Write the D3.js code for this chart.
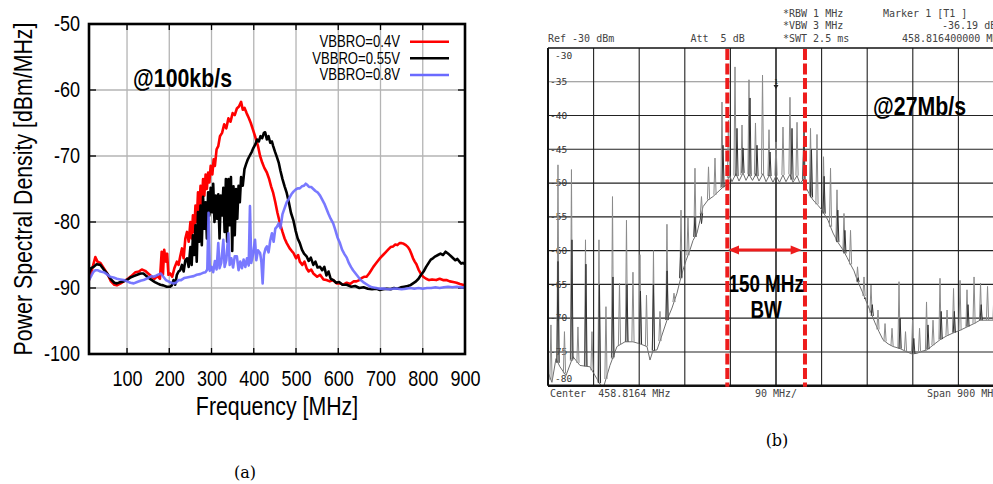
<!DOCTYPE html>
<html><head><meta charset="utf-8">
<script src="https://cdn.jsdelivr.net/npm/d3@7/dist/d3.min.js"></script>
<style>body{margin:0;background:#fff}svg{display:block}</style>
</head><body>
<svg id="c" width="993" height="484"></svg>
<script>
// ---------------- Panel (a) data ----------------
const freqTicks = [100,200,300,400,500,600,700,800,900];
const psdTicks = [-50,-60,-70,-80,-90,-100];
const seriesNames = ["VBBRO=0.4V","VBBRO=0.55V","VBBRO=0.8V"];
const seriesColors = ["#ff0000","#000000","#6a6aff"];
const red04 = [[10,-88.8],[18,-87],[25,-85.3],[30,-86],[37,-86.2],[45,-87],[53,-87.8],[62,-89],[70,-89.5],[76,-89.6],[85,-89.3],[92,-89],[100,-88.7],[110,-88.2],[120,-87.6],[128,-87.5],[135,-87.2],[143,-87.4],[150,-87.8],[159,-88.3],[165,-88.6],[172,-88.2],[178,-88.6],[182,-84.5],[185,-88],[188,-84.2],[192,-86],[195,-84.8],[198,-88],[202,-87.8],[207,-88.3],[212,-87],[218,-86],[222,-86.5],[226,-85.2],[230,-84],[234,-85.5],[238,-82.5],[242,-81.5],[246,-83],[250,-80],[253,-82.5],[256,-79],[259,-81.5],[262,-77.5],[265,-80],[268,-75.5],[271,-78.5],[274,-74.5],[277,-77.5],[280,-73.5],[283,-76],[286,-72.8],[289,-75],[292,-72.5],[295,-74],[298,-71.5],[302,-72.8],[305,-70.5],[308,-71.5],[312,-69],[316,-68.5],[320,-67],[325,-66.5],[330,-65.2],[335,-65.8],[340,-64.3],[345,-64.8],[350,-63.5],[355,-63.8],[360,-62.8],[365,-62.5],[370,-61.8],[374,-63],[378,-62.7],[383,-63.5],[388,-64.2],[393,-65],[399,-66.2],[404,-67.2],[410,-68.5],[415,-70],[420,-71],[425,-71.8],[431,-72.5],[436,-73.4],[441,-74.6],[446,-75.6],[451,-77],[456,-78.6],[462,-80.2],[468,-81.5],[473,-82.5],[478,-83.2],[485,-84],[490,-84.4],[494,-84.7],[500,-85.5],[505,-85],[509,-86],[515,-86.5],[520,-86],[525,-87],[530,-87.5],[536,-87.2],[541,-87.8],[550,-88.3],[557,-88],[565,-88.7],[572,-88.8],[580,-89],[588,-88.8],[596,-89.3],[604,-89.3],[612,-89.5],[620,-89.2],[628,-89.4],[636,-89],[643,-89],[650,-88.8],[655,-88.5],[661,-88.3],[667,-88.3],[673,-87.8],[678,-87.3],[683,-86.8],[689,-86.3],[695,-85.8],[700,-85.4],[706,-85],[712,-84.6],[718,-84.2],[724,-83.8],[730,-83.7],[735,-83.4],[740,-83.5],[745,-83.2],[750,-83.2],[755,-83.3],[760,-83.5],[765,-83.8],[769,-84.2],[773,-84.8],[777,-85.5],[781,-86],[785,-86.4],[790,-87.2],[795,-87.8],[801,-88.3],[808,-88.6],[815,-88.8],[822,-88.7],[832,-88.8],[840,-88.6],[848,-88.8],[856,-88.8],[864,-89],[872,-89.1],[880,-89.2],[888,-89.4],[895,-89.5],[900,-89.6]];
const black055 = [[10,-87.8],[15,-87],[21,-86.8],[28,-86.4],[37,-86.5],[45,-87.2],[53,-87.8],[62,-88.7],[70,-89.2],[76,-89.3],[85,-89.1],[92,-89],[100,-88.8],[108,-88.4],[116,-88.2],[124,-88],[132,-87.8],[139,-87.8],[146,-88.2],[152,-88.5],[159,-88.8],[166,-89.1],[172,-89.3],[179,-89.5],[186,-89.6],[194,-89.8],[202,-89.8],[206,-89.6],[210,-88.8],[214,-89.5],[218,-88],[222,-87.5],[226,-87.3],[230,-86.5],[234,-87.5],[238,-85.8],[242,-85.5],[246,-86.8],[250,-83.8],[253,-86.5],[256,-82],[259,-85],[262,-80.5],[265,-86],[268,-78.5],[271,-83],[274,-77.5],[277,-83.5],[280,-76.2],[283,-81],[286,-77],[289,-82.5],[292,-75.5],[295,-79],[298,-74.8],[301,-78.5],[304,-74.2],[307,-80],[310,-76],[313,-79.5],[316,-75.8],[319,-82.5],[322,-76],[325,-79],[328,-74.8],[331,-81.5],[334,-73.5],[337,-83],[340,-73.5],[343,-80.5],[346,-73.2],[349,-84.4],[352,-74.6],[355,-82],[358,-75],[361,-79.5],[364,-74.5],[367,-77],[370,-73.2],[374,-74.5],[378,-72],[382,-71.2],[386,-70.5],[390,-70],[395,-69.4],[399,-68.8],[404,-68.2],[408,-67.5],[412,-67.8],[416,-67],[420,-67.3],[424,-66.5],[427,-66.4],[431,-67.5],[435,-67],[439,-68],[443,-67.8],[446,-68.5],[450,-69.3],[455,-70.2],[459,-71],[463,-72.2],[468,-73.5],[473,-74.6],[478,-75.6],[483,-77],[488,-78.6],[494,-79.8],[499,-81.3],[504,-82.5],[509,-83.2],[514,-84.2],[519,-84.8],[525,-85.2],[530,-85.9],[535,-85.4],[541,-86.5],[546,-86],[551,-86.9],[557,-86.8],[562,-87.3],[567,-86.8],[572,-88.1],[577,-87.5],[582,-88.6],[588,-88.8],[595,-89.2],[602,-89.1],[610,-89.5],[620,-89.5],[630,-89.8],[640,-89.7],[650,-90],[660,-89.9],[670,-90.1],[680,-90.2],[690,-90.1],[698,-90.3],[706,-90.2],[715,-90.1],[724,-90.2],[732,-90],[740,-90.1],[748,-89.9],[756,-89.8],[764,-89.7],[770,-89.6],[777,-89.3],[784,-89],[790,-88.6],[796,-88],[802,-87.5],[808,-86.8],[814,-86.2],[819,-85.7],[824,-85.5],[830,-85.2],[836,-85],[842,-84.8],[848,-85],[854,-84.5],[858,-84.7],[862,-84.9],[867,-85.2],[872,-85.5],[877,-85.8],[882,-85.6],[887,-86],[891,-86.3],[895,-86.2],[900,-86.4]];
const blue08 = [[10,-88.8],[15,-88.2],[20,-87.6],[25,-87.3],[30,-87.3],[37,-87.5],[45,-87.6],[52,-87.9],[60,-88.3],[68,-88.4],[76,-88.6],[84,-88.7],[92,-88.8],[100,-89],[108,-89.2],[116,-89.3],[124,-89.1],[132,-88.9],[139,-88.8],[146,-88.6],[152,-88.4],[158,-88.2],[163,-88.3],[170,-88.1],[176,-87.9],[180,-87.8],[186,-88.3],[192,-88.8],[198,-89],[204,-89.2],[210,-89.3],[216,-89.2],[222,-88.8],[228,-88.8],[235,-88.5],[242,-88.4],[250,-88.3],[258,-88.2],[265,-88],[273,-87.9],[280,-87.7],[286,-87.6],[290,-87.2],[293,-78.6],[296,-87.4],[300,-86.8],[304,-87.6],[308,-85.9],[312,-87.2],[316,-83.2],[319,-87],[323,-86.2],[328,-82.7],[331,-86.8],[335,-85.8],[340,-81.7],[343,-86.5],[347,-85.5],[351,-86.9],[355,-85.2],[360,-85.2],[364,-87.3],[368,-86],[372,-87],[376,-85.7],[380,-86.8],[384,-85.5],[388,-86.6],[391,-77.6],[394,-86.2],[398,-85],[403,-82.7],[406,-85.8],[410,-84.3],[415,-84.7],[418,-86],[421,-89.3],[424,-85],[428,-84],[431,-83.7],[435,-84.6],[439,-82.8],[443,-81.7],[447,-83],[451,-81],[455,-80.7],[459,-80.2],[463,-80.9],[468,-78.8],[473,-77.9],[478,-77],[483,-76.5],[489,-75.8],[494,-75.4],[499,-75.1],[504,-74.9],[509,-74.9],[514,-74.6],[519,-74.5],[523,-74.2],[527,-74.4],[531,-74.7],[536,-74.7],[541,-75],[546,-75.3],[551,-75.5],[557,-76],[562,-76.6],[567,-77.2],[572,-78],[577,-78.8],[582,-79.5],[588,-80.2],[593,-81.2],[598,-82.3],[604,-83.2],[609,-84.2],[615,-84.9],[620,-85.4],[625,-86.2],[630,-86.8],[635,-87.3],[641,-87.8],[647,-88.3],[653,-88.8],[659,-89.1],[666,-89.4],[673,-89.7],[680,-89.9],[690,-90],[698,-90.1],[710,-90.1],[720,-90.2],[730,-90.1],[740,-90.1],[750,-90.2],[760,-90.1],[770,-90],[780,-90.1],[790,-90],[800,-90.1],[810,-90],[820,-90],[830,-89.9],[840,-90],[850,-89.9],[860,-89.8],[870,-89.9],[880,-89.8],[890,-89.9],[900,-89.9]];

// ---------------- Panel (b) data (offset from centre, MHz) ----------------
const specYTicks = [-30,-35,-40,-45,-50,-55,-60,-65,-70,-75,-80];
const specXDivs = [-450,-360,-270,-180,-90,0,90,180,270,360,450];
const specFloor = [[-450,-78],[-442.2,-79.5],[-434.3,-76],[-426.4,-77.2],[-414.5,-78.5],[-400.7,-75.7],[-386.9,-77],[-367.2,-77.2],[-353.3,-79],[-341.5,-80.5],[-327.7,-77],[-313.9,-74.2],[-298.1,-73.5],[-282.3,-73.5],[-268.5,-73.8],[-254.6,-74.2],[-248.7,-76.2],[-242.8,-74.8],[-234.9,-74.7],[-225,-72.5],[-215.2,-70.3],[-205.3,-68.5],[-195.4,-66.3],[-189.5,-64.5],[-183.6,-62.9],[-177.7,-61.5],[-169.8,-59.9],[-163.8,-58.5],[-155.9,-57.4],[-150,-55.5],[-144.1,-53.5],[-134.2,-52.5],[-124.4,-52],[-114.5,-51.3],[-104.6,-50.6],[-98.7,-50.3],[-91.8,-48.8],[-86.9,-49.8],[-79,-48.6],[-73,-49.7],[-65.1,-48.5],[-59.2,-49.6],[-53.3,-48.7],[-46.4,-49.6],[-39.5,-48.6],[-33.6,-49.7],[-25.7,-48.6],[-19.7,-49.8],[-12.8,-48.8],[-5.9,-49.9],[0,-48.9],[6.9,-49.9],[13.8,-48.8],[19.7,-49.8],[27.6,-48.7],[33.6,-49.9],[41.5,-48.9],[47.4,-50.1],[54.3,-49.4],[60.2,-50.8],[65.1,-51.5],[73,-52.5],[82.9,-53.3],[90.8,-54],[102.6,-55.5],[112.5,-57.4],[122.4,-58.8],[132.3,-59.9],[140.2,-61],[146.1,-61.9],[154,-63],[159.9,-64.3],[169.8,-66],[179.6,-67.8],[187.5,-69.2],[195.4,-70.7],[203.3,-72],[211.2,-73.2],[221.1,-73.8],[231,-74.2],[244.8,-74.5],[258.6,-75],[268.5,-75.3],[278.3,-75.2],[288.2,-74.9],[298.1,-74.7],[309.9,-74],[323.7,-73.2],[337.6,-72.6],[349.4,-72.2],[363.2,-71.8],[377,-71.3],[390.9,-70.8],[402.7,-70.3],[416.5,-70.3],[428.4,-70.3],[450,-70]];
const specSpikes = [[-444.2,-71],[-430.3,-47.3],[-417.5,-72],[-403.7,-48],[-390.9,-71.3],[-376,-58.4],[-363.2,-72],[-349.4,-58.4],[-335.6,-68.3],[-322.7,-52],[-308.9,-64.8],[-295.1,-55.5],[-282.3,-63.2],[-268.5,-60.6],[-255.6,-66.6],[-241.8,-60],[-229,-69],[-215.2,-56.1],[-201.3,-66.3],[-187.5,-54],[-173.7,-55],[-159.9,-47.8],[-147.1,-52],[-133.2,-47.6],[-120.4,-46.3],[-106.6,-38],[-93.8,-40.7],[-80.9,-32.8],[-67.1,-41.4],[-53.3,-34.7],[-40.5,-41.1],[-26.6,-34],[-13.8,-42.1],[0,-43.9],[13.8,-41.7],[27.6,-37.3],[41.5,-41],[54.3,-44.2],[68.1,-41.9],[80.9,-42.8],[93.8,-46.1],[107.6,-47.8],[120.4,-51],[134.2,-54.5],[147.1,-57],[160.9,-62.4],[173.7,-63.9],[187.5,-65.1],[201.3,-68.8],[215.2,-70.8],[229,-71.5],[242.8,-64.6],[255.6,-72],[269.5,-70.3],[283.3,-71.5],[297.1,-67.6],[309.9,-70.3],[323.7,-64.1],[337.6,-68.8],[350.4,-65.6],[363.2,-64.4],[377,-65.8],[390.9,-63.9],[403.7,-64.8],[417.5,-65.3],[430.3,-66],[444.2,-67]];
const specSpikesDark = [[-430.3,-61.6],[-402.7,-58.4],[-375.1,-62],[-348.4,-65],[-321.8,-63.9],[-294.1,-65],[-267.5,-66],[-242,-65],[-215,-63],[-188,-60],[-160,-55],[-147,-56],[-104.6,-44.4],[-77,-41.9],[-65.1,-44.8],[-51.3,-37.4],[-37.5,-44.4],[-11.8,-45.4],[31.6,-41.9],[55.3,-42.4],[70,-45],[95,-49],[122,-54],[136,-57],[162,-64],[176,-67],[190,-68],[245,-70],[272,-73],[300,-71],[326,-69],[352,-69],[379,-68],[405,-68],[432,-68]];
const bwEdges = [-96.1, 57.2];
const bwArrow = [-94.7, 50.7];
const bwArrowLevel = -59.9;

const svg = d3.select("#c");
const SX = 0.82; // narrow sans look
function ntext(g, x, y, str, size, anchor, weight, rot){
  return g.append("text")
    .attr("transform", `translate(${x},${y})${rot?` rotate(${rot})`:""} scale(${SX},1)`)
    .attr("text-anchor", anchor||"start")
    .attr("font-family", "'Liberation Sans', Arial, sans-serif")
    .attr("font-size", size).attr("font-weight", weight||"normal")
    .attr("fill", "#000").text(str);
}

// ================= Panel (a) =================
const A = {l:89, r:465, t:24, b:354};
const xA = d3.scaleLinear().domain([10,900]).range([A.l,A.r]);
const yA = d3.scaleLinear().domain([-100,-50]).range([A.b,A.t]);
const ga = svg.append("g");
ga.append("clipPath").attr("id","clipA").append("rect")
  .attr("x",A.l).attr("y",A.t).attr("width",A.r-A.l).attr("height",A.b-A.t);

// grid
ga.append("g").selectAll("line").data(freqTicks.filter(d=>d<900)).join("line")
  .attr("x1",d=>xA(d)).attr("x2",d=>xA(d)).attr("y1",A.t).attr("y2",A.b)
  .attr("stroke","#b4b4b4").attr("stroke-width",1.3);
ga.append("g").selectAll("line").data(psdTicks.filter(d=>d>-100&&d<-50)).join("line")
  .attr("x1",A.l).attr("x2",A.r).attr("y1",d=>yA(d)).attr("y2",d=>yA(d))
  .attr("stroke","#b4b4b4").attr("stroke-width",1.3);
// inner ticks
const tk = ga.append("g").attr("stroke","#000").attr("stroke-width",1.3);
freqTicks.filter(d=>d<900).forEach(d=>{
  tk.append("line").attr("x1",xA(d)).attr("x2",xA(d)).attr("y1",A.b).attr("y2",A.b-6);
  tk.append("line").attr("x1",xA(d)).attr("x2",xA(d)).attr("y1",A.t).attr("y2",A.t+6);
});
psdTicks.filter(d=>d>-100&&d<-50).forEach(d=>{
  tk.append("line").attr("x1",A.l).attr("x2",A.l+7).attr("y1",yA(d)).attr("y2",yA(d));
  tk.append("line").attr("x1",A.r).attr("x2",A.r-7).attr("y1",yA(d)).attr("y2",yA(d));
});

// series
const lineA = d3.line().x(d=>xA(d[0])).y(d=>yA(d[1]));
const seriesData = [red04, black055, blue08];
seriesData.forEach((s,i)=>{
  ga.append("path").attr("d",lineA(s)).attr("fill","none")
    .attr("stroke",seriesColors[i]).attr("stroke-width",2.6)
    .attr("stroke-linejoin","round").attr("clip-path","url(#clipA)")
    .attr("opacity", i===2?0.9:1);
});

// frame
ga.append("rect").attr("x",A.l).attr("y",A.t).attr("width",A.r-A.l).attr("height",A.b-A.t)
  .attr("fill","none").attr("stroke","#000").attr("stroke-width",2.6);

// axes (labels only)
const axB = ga.append("g").attr("transform",`translate(0,${A.b})`)
  .call(d3.axisBottom(xA).tickValues(freqTicks).tickSize(0).tickFormat(d=>String(d)));
axB.select(".domain").remove();
axB.selectAll("text").attr("y",null).attr("dy",null)
  .attr("transform",`translate(0,32) scale(${SX},1)`)
  .attr("font-family","'Liberation Sans', Arial, sans-serif").attr("font-size",22).attr("fill","#000");
const axL = ga.append("g").attr("transform",`translate(${A.l},0)`)
  .call(d3.axisLeft(yA).tickValues(psdTicks).tickSize(0).tickFormat(d=>String(d)));
axL.select(".domain").remove();
axL.selectAll("text").attr("x",null).attr("dy",null)
  .attr("transform",`translate(-9,6) scale(${SX},1)`)
  .attr("font-family","'Liberation Sans', Arial, sans-serif").attr("font-size",22).attr("fill","#000");

ntext(ga, 277, 415, "Frequency [MHz]", 26, "middle");
ntext(ga, 32, 189, "Power Spectral Density [dBm/MHz]", 26, "middle", "normal", -90);
ntext(ga, 133, 87, "@100kb/s", 26, "start", "bold");

// legend
const legY = [41.7, 58.3, 75];
seriesNames.forEach((n,i)=>{
  ntext(ga, 400, legY[i]+5.3, n, 16, "end");
  ga.append("line").attr("x1",410).attr("x2",449).attr("y1",legY[i]).attr("y2",legY[i])
    .attr("stroke",seriesColors[i]).attr("stroke-width",2.4);
});

// caption
ga.append("text").attr("x",245).attr("y",478).attr("text-anchor","middle")
  .attr("font-family","'DejaVu Serif', serif").attr("font-size",16).text("(a)");

// ================= Panel (b) =================
const B = {l:548, r:1004, t:48, b:385.7};
const xB = d3.scaleLinear().domain([-450,450]).range([B.l,B.r]);
const yB = d3.scaleLinear().domain([-80,-30]).range([B.b,B.t]);
const gb = svg.append("g");
gb.append("clipPath").attr("id","clipB").append("rect")
  .attr("x",B.l).attr("y",B.t).attr("width",B.r-B.l).attr("height",B.b-B.t);

const mono = "'DejaVu Sans Mono', 'Liberation Mono', monospace";
// grid
gb.append("g").selectAll("line").data(specYTicks.filter(d=>d>-80&&d<-30)).join("line")
  .attr("x1",B.l).attr("x2",B.r).attr("y1",d=>yB(d)).attr("y2",d=>yB(d))
  .attr("stroke",d=>d===-35?"#8a8a8a":"#222").attr("stroke-width",1.1);
gb.append("g").selectAll("line").data(specXDivs.filter(d=>d>-450&&d<450)).join("line")
  .attr("x1",d=>xB(d)).attr("x2",d=>xB(d)).attr("y1",B.t).attr("y2",B.b)
  .attr("stroke","#222").attr("stroke-width",d=>d===0?1.6:1.1);

// y labels inside
gb.append("g").selectAll("text").data(specYTicks).join("text")
  .attr("x",d=>(d===-30||d===-80)?555:550)
  .attr("y",d=>d===-30?yB(d)+11:(d===-80?yB(d)-4:yB(d)+3.3))
  .attr("font-family",mono).attr("font-size",9.5).attr("fill","#333").text(d=>String(d));

// trace
const floorAt = d3.scaleLinear().domain(specFloor.map(d=>d[0])).range(specFloor.map(d=>d[1])).clamp(true);
const tr = gb.append("g").attr("clip-path","url(#clipB)").attr("fill","none");
tr.append("path").attr("d", d3.line().x(d=>xB(d[0])).y(d=>yB(d[1]))(specFloor))
  .attr("stroke","#6e6e6e").attr("stroke-width",1);
const spikePath = d => {
  const x = xB(d[0]), yf = yB(floorAt(d[0])), yt = yB(d[1]);
  return `M${x-1.1},${yf}L${x},${yt}L${x+1.1},${yf}`;
};
tr.selectAll("path.sp").data(specSpikes).join("path").attr("class","sp")
  .attr("d",spikePath).attr("stroke","#8a8a8a").attr("stroke-width",1);
tr.selectAll("path.sd").data(specSpikesDark).join("path").attr("class","sd")
  .attr("d",spikePath).attr("stroke","#333").attr("stroke-width",1);

// marker glyph
gb.append("text").attr("x",xB(0)).attr("y",84).attr("text-anchor","middle")
  .attr("font-family",mono).attr("font-size",7).attr("fill","#222").text("1");
gb.append("path").attr("d",`M${xB(0)-2.5},85L${xB(0)+2.5},85L${xB(0)},89Z`).attr("fill","#222");

// frame
gb.append("line").attr("x1",B.l).attr("x2",B.r).attr("y1",B.t).attr("y2",B.t).attr("stroke","#111").attr("stroke-width",1.5);
gb.append("line").attr("x1",B.l).attr("x2",B.r).attr("y1",B.b).attr("y2",B.b).attr("stroke","#111").attr("stroke-width",2.6);
gb.append("line").attr("x1",B.l).attr("x2",B.l).attr("y1",B.t).attr("y2",B.b).attr("stroke","#111").attr("stroke-width",2);

// header texts
const hdr = [["*RBW 1 MHz",783,17],["*VBW 3 MHz",783,29],["*SWT 2.5 ms",783,42],
             ["Marker 1 [T1 ]",883,17],["-36.19 dBm",942,29],["458.816400000 MHz",902,42],
             ["Ref -30 dBm",548,42],["Att  5 dB",690.5,42],
             ["Center  458.8164 MHz",550,397],["90 MHz/",755,397],["Span 900 MHz",927,397]];
gb.append("g").selectAll("text").data(hdr).join("text")
  .attr("x",d=>d[1]).attr("y",d=>d[2]).attr("font-family",mono).attr("font-size",10)
  .attr("fill","#444").attr("xml:space","preserve").style("white-space","pre").text(d=>d[0]);

// BW markers
gb.append("g").selectAll("line").data(bwEdges).join("line")
  .attr("x1",d=>xB(d)).attr("x2",d=>xB(d)).attr("y1",B.t+1).attr("y2",B.b+1)
  .attr("stroke","#ee1c1c").attr("stroke-width",4).attr("stroke-dasharray","11,3.5");
const ay = yB(bwArrowLevel), ax1 = xB(bwArrow[0]), ax2 = xB(bwArrow[1]);
gb.append("line").attr("x1",ax1+8).attr("x2",ax2-8).attr("y1",ay).attr("y2",ay)
  .attr("stroke","#ee1c1c").attr("stroke-width",3);
gb.append("path").attr("d",`M${ax1},${ay}L${ax1+11},${ay-4.5}L${ax1+11},${ay+4.5}Z`).attr("fill","#ee1c1c");
gb.append("path").attr("d",`M${ax2},${ay}L${ax2-11},${ay-4.5}L${ax2-11},${ay+4.5}Z`).attr("fill","#ee1c1c");

const bwMid = (xB(bwEdges[0])+xB(bwEdges[1]))/2;
ntext(gb, bwMid, 291.5, "150 MHz", 23, "middle", "bold");
ntext(gb, bwMid, 318, "BW", 23, "middle", "bold");
ntext(gb, 873, 115, "@27Mb/s", 26, "start", "bold");

gb.append("text").attr("x",777).attr("y",446).attr("text-anchor","middle")
  .attr("font-family","'DejaVu Serif', serif").attr("font-size",16).text("(b)");
</script>
</body></html>
